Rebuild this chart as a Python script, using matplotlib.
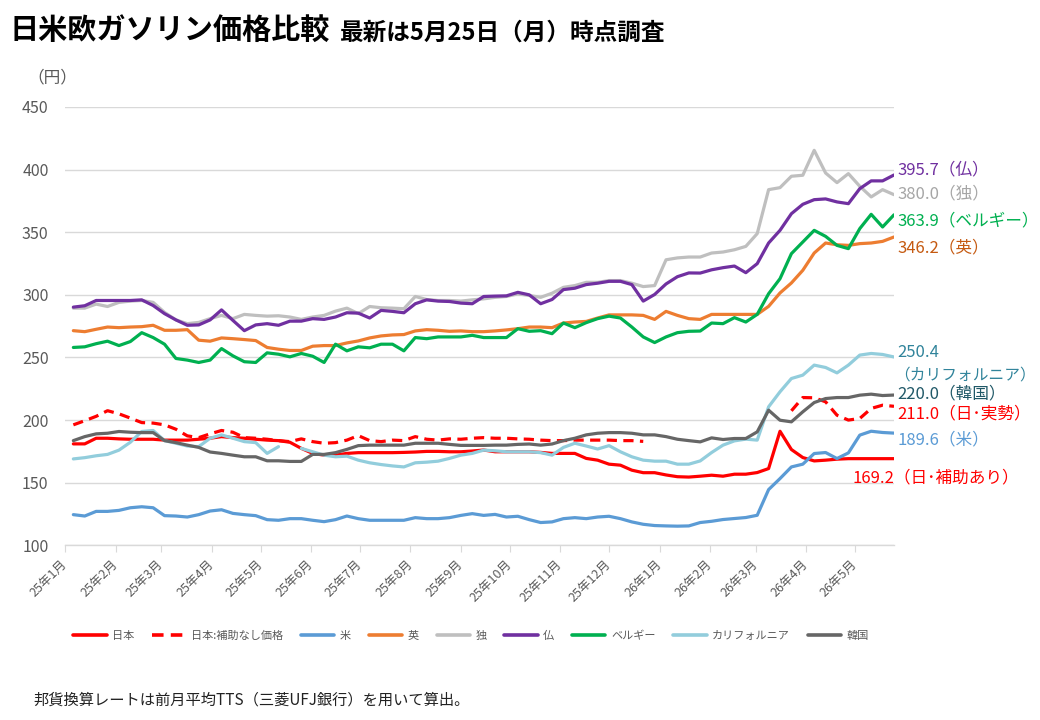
import numpy as np
import pandas as pd
import matplotlib
matplotlib.use("Agg")
import matplotlib.pyplot as plt
import matplotlib.dates as mdates
import matplotlib.transforms as mtransforms

plt.rcParams['font.family'] = ['Noto Sans CJK JP', 'DejaVu Sans']

nan = np.nan
dates = pd.date_range('2025-01-06', periods=73, freq='7D')

france = [290.2, 291.3, 295.5, 295.5, 295.5, 295.5, 296, 291.5, 285, 280, 275.7, 276, 280, 288, 279.6, 271.4, 276, 277,
          275.7, 279, 279, 281, 280.4, 282.3, 285.7, 285.4, 281.5, 287.6, 286.8, 285.7, 292.9, 296, 295, 294.7, 293.4, 292.9, 298.7,
          299, 299.2, 302, 300, 292.9, 296.3, 304.2, 305.3, 308.2, 309.3, 310.8, 310.8, 308.2, 295, 300.3, 308.7, 314.5, 317.5,
          317.4, 320, 321.7, 323, 317.7, 324.9, 341.4, 351.5, 364.8, 372.3, 376, 376.6, 374.2, 372.8, 384.8, 391, 391, 395.7]
germany = [289.4, 289.4, 292.6, 290.7, 294, 295, 295.5, 294, 286, 280, 277, 278, 281, 283.6, 281, 284.4, 283.6, 283,
           283.3, 282.3, 280.4, 282.3, 283.6, 287, 289.4, 285, 290.7, 289.7, 289.4, 288.9, 298.7, 296.3, 295.5, 295.5, 295, 296, 296.8,
           298, 298.7, 300.8, 299.5, 298, 301.3, 306, 307.4, 310, 310, 311.4, 311.4, 309.3, 306.6, 307.4, 328, 329.5, 330.2,
           330.2, 333.4, 334.2, 336, 338.7, 348.9, 384, 385.6, 394.7, 395.5, 415.4, 397.3, 389.6, 396.8, 386.7, 378.2, 384, 380]
uk = [271.4, 270.6, 272.5, 274.3, 273.8, 274.3, 274.6, 275.7, 271.7, 271.7, 272.2, 263.8, 263, 265.6, 265, 264.3, 263.5, 258,
      256.6, 255.6, 255.6, 259, 259.5, 259.5, 261.6, 263.2, 265.6, 267.2, 268, 268.3, 271.2, 272.2, 271.7, 270.9, 271.2, 270.6, 270.6,
      271.2, 272, 273, 274.3, 274.3, 273.8, 277.5, 278.3, 278.8, 281.5, 284, 284, 284, 283.6, 280.4, 286.8, 283.6, 281,
      280.4, 284.4, 284.4, 284.4, 284.4, 284.4, 290.8, 301.5, 309.5, 319.6, 333.4, 341.4, 340, 339.5, 340.9, 341.4, 342.7, 346.2]
belgium = [258, 258.5, 261, 263, 259.5, 262.7, 269.8, 265.9, 260.6, 249.2, 247.9, 246, 247.9, 257.1, 251.3, 246.6, 246, 253.7,
           252.6, 250.5, 253.2, 251, 246, 260.6, 255.3, 258.5, 257.7, 260.6, 260.6, 255.3, 265.9, 265, 266.4, 266.4, 266.4, 267.7, 265.9,
           265.9, 265.9, 273, 270.9, 271.4, 269, 277.5, 273.8, 277.8, 281, 283, 281.5, 274.3, 266.4, 261.9, 266.4, 269.8, 270.9,
           271.1, 277.5, 277, 281.8, 278.3, 284.4, 300.9, 312.9, 332.9, 342.2, 351.5, 346.7, 339.5, 336.9, 352.9, 364.3, 354.2, 363.9]
japan_nosub = [196.2, 199.5, 203, 207.5, 205, 201.6, 198, 197.6, 196.2, 192.7, 187.4, 186, 189, 191.7, 190.3, 186, 185.5, 184.7,
               183.6, 182.8, 185, 182.8, 181.5, 182, 184, 187.6, 183.6, 182.8, 184, 183.6, 186.8, 184.7, 184, 185, 184.7, 185.5, 186,
               185.5, 185.5, 185, 184.7, 184, 183.6, 183.6, 184, 184, 184, 184, 183.6, 183.6, 183,
               nan, nan, nan, nan, nan, nan, nan, nan, nan, nan, nan, nan,
               207.4, 218, 217.8, 214.6, 203.9, 200, 201.3, 209.3, 211.9, 211.0]
japan = [181, 181, 185.5, 185.5, 185, 184.7, 184.7, 184.7, 184, 184, 184, 184.7, 185.5, 186.8, 186, 185.5, 184.7, 184,
         183.6, 182.3, 177.4, 173.4, 172, 172, 173.4, 174, 174, 174, 174, 174.2, 174.5, 175, 175, 174.7, 174.7, 175.3, 176.1,
         174.7, 174.7, 174.7, 174.7, 174.2, 173.4, 173.4, 173.4, 169.4, 168, 164.8, 164, 160, 158, 158, 156.2, 154.8, 154.5,
         155.2, 156, 155.2, 156.8, 156.8, 158.1, 161.3, 191.1, 176.5, 170.1, 167.4, 168, 168.8, 169.2, 169.2, 169.2, 169.2, 169.2]
korea = [183.6, 186.8, 189, 189.5, 190.9, 190.3, 190, 190, 183.6, 182, 180, 178.2, 174.5, 173.4, 172, 170.7, 170.7, 167.5,
         167.5, 167, 167, 172.6, 172.6, 174, 176.6, 179.6, 180, 180, 180, 180, 181.5, 181.5, 181.5, 180.6, 179.8, 179.8, 179.8,
         180, 180, 180.6, 180.9, 180, 180.9, 183.6, 185.5, 188.2, 189.5, 190, 190, 189.5, 188.2, 188.2, 186.8, 184.7, 183.6,
         182.6, 185.8, 184.5, 185.3, 185.3, 190.6, 207.9, 199.9, 198.6, 206.6, 214, 217.2, 218, 218, 219.9, 220.7, 219.6, 220.0]
california = [169, 170, 171.5, 172.6, 176, 182.3, 190.9, 191.7, 183.6, 181.5, 179.3, 178.8, 185.5, 188.2, 185.5, 182.8, 182, 173.4,
              178.8, nan, 177.4, 174.7, 172, 170.7, 171.2, 168, 165.9, 164.5, 163.4, 162.6, 165.9, 166.4, 167.2, 169.4, 172, 173.4, 176,
              175.5, 174.7, 174.7, 174.7, 174, 172, 178.2, 181.5, 179.3, 176.9, 179.6, 174.7, 170.7, 168, 167.2, 167.2, 164.8, 164.8,
              167.4, 174.1, 180, 183.4, 184.8, 184, 210.6, 222.6, 233.2, 235.9, 243.9, 242, 237.7, 243.9, 251.9, 253.2, 252.4, 250.4]
usa = [124.5, 123.4, 127.1, 127.1, 127.9, 130, 130.8, 130, 123.7, 123.4, 122.6, 124.5, 127.4, 128.4, 125.5, 124.5, 123.7, 120.5,
       120, 121.3, 121.3, 120, 118.9, 120.5, 123.4, 121.3, 120, 120, 120, 120, 122.1, 121.3, 121.3, 122.1, 123.9, 125.3, 123.9,
       124.7, 122.6, 123.2, 120.5, 118.2, 118.7, 121.3, 122.1, 121.3, 122.6, 123.2, 121.3, 118.7, 116.8, 115.8, 115.5, 115.3, 115.5,
       118.2, 119.2, 120.6, 121.4, 122.2, 124, 144.5, 153.3, 162.6, 164.8, 173.3, 174.1, 169.3, 173.8, 188, 191.1, 190.1, 189.6]

legend_names = ['日本', '日本:補助なし価格', '米', '英', '独', '仏', 'ベルギー', 'カリフォルニア', '韓国']
yticks = [100, 150, 200, 250, 300, 350, 400, 450]

end_labels = ['395.7（仏）', '380.0（独）', '363.9（ベルギー）', '346.2（英）', '250.4', '（カリフォルニア）',
              '220.0（韓国）', '211.0（日･実勢）', '189.6（米）', '169.2（日･補助あり）']

fig = plt.figure(figsize=(10.4, 7.2), dpi=100)
ax = fig.add_axes([0.0627, 0.2426, 0.7969, 0.6088])

lw = 2.3
series = [
    (japan, '#FF0000', '-'),
    (japan_nosub, '#FF0000', (0, (3.2, 2.0))),
    (usa, '#5B9BD5', '-'),
    (uk, '#ED7D31', '-'),
    (germany, '#BFBFBF', '-'),
    (france, '#7030A0', '-'),
    (belgium, '#00B050', '-'),
    (california, '#92CDDC', '-'),
    (korea, '#666666', '-'),
]
handles = {}
order = [4, 3, 6, 5, 7, 2, 8, 1, 0]
for idx in order:
    vals, col, ls = series[idx]
    h, = ax.plot(dates, vals, color=col, lw=lw, linestyle=ls, solid_capstyle='round', zorder=3 + idx * 0.01)
    handles[idx] = h

ax.set_ylim(100, 450)
ax.set_yticks(yticks)
ax.set_xlim(pd.Timestamp('2025-01-01'), pd.Timestamp('2026-05-25'))
ax.grid(axis='y', color='#D9D9D9', lw=1)
ax.set_axisbelow(True)
for s in ['left', 'right', 'top']:
    ax.spines[s].set_visible(False)
ax.spines['bottom'].set_color('#D9D9D9')
ax.spines['bottom'].set_linewidth(1)
ax.tick_params(axis='y', length=0, labelsize=11.5, labelcolor='#595959', pad=12)
ax.tick_params(axis='x', length=5, color='#D9D9D9', labelsize=9, labelcolor='#595959', pad=3)

ax.xaxis.set_major_locator(mdates.MonthLocator())
ticks = ax.get_xticks()
ax.set_xticks(ticks)
xl = [f"{mdates.num2date(t).year % 100}年{mdates.num2date(t).month}月" for t in ticks]
ax.set_xticklabels(xl, rotation=45, ha='right', va='center', rotation_mode='anchor')
for lab in ax.get_xticklabels():
    lab.set_transform(lab.get_transform() + mtransforms.ScaledTranslation(0, -4 / 72, fig.dpi_scale_trans))

# end labels
trans = mtransforms.blended_transform_factory(ax.transAxes, ax.transData)
label_y = [399.9, 380.7, 359.2, 337.6, 253.7, 236.1, 220.9, 204.9, 184.1, 153.7]
label_x = [1.004] * 5 + [1.0] + [1.004] * 3 + [0.9505]
label_s = [12] * 5 + [11.3] + [12] * 4
label_c = ['#7030A0', '#A6A6A6', '#00B050', '#C55A11', '#31849B', '#31849B', '#215968', '#FF0000', '#5B9BD5', '#FF0000']
for t, yv, xv, c, s in zip(end_labels, label_y, label_x, label_c, label_s):
    ax.text(xv, yv, t, transform=trans, color=c, fontsize=s, va='center', ha='left', clip_on=False)

# titles
fig.text(0.009, 0.958, '日米欧ガソリン価格比較', fontsize=21, fontweight='bold', va='center', ha='left')
fig.text(0.327, 0.954, '最新は5月25日（月）時点調査', fontsize=17, fontweight='bold', va='center', ha='left')
fig.text(0.026, 0.892, '（円）', fontsize=12, color='#595959', va='center', ha='left')
fig.text(0.032, 0.028, '邦貨換算レートは前月平均TTS（三菱UFJ銀行）を用いて算出。', fontsize=11, color='#222222',
         va='center', ha='left')

leg = fig.legend([handles[i] for i in range(9)], legend_names, loc='center', bbox_to_anchor=(0.453, 0.117),
                 ncol=9, frameon=False, fontsize=8, handlelength=3.0, handletextpad=0.5, columnspacing=1.6,
                 labelcolor='#595959')
for l in leg.get_lines():
    l.set_linewidth(2.6)

fig.savefig('out.png', dpi=100)
